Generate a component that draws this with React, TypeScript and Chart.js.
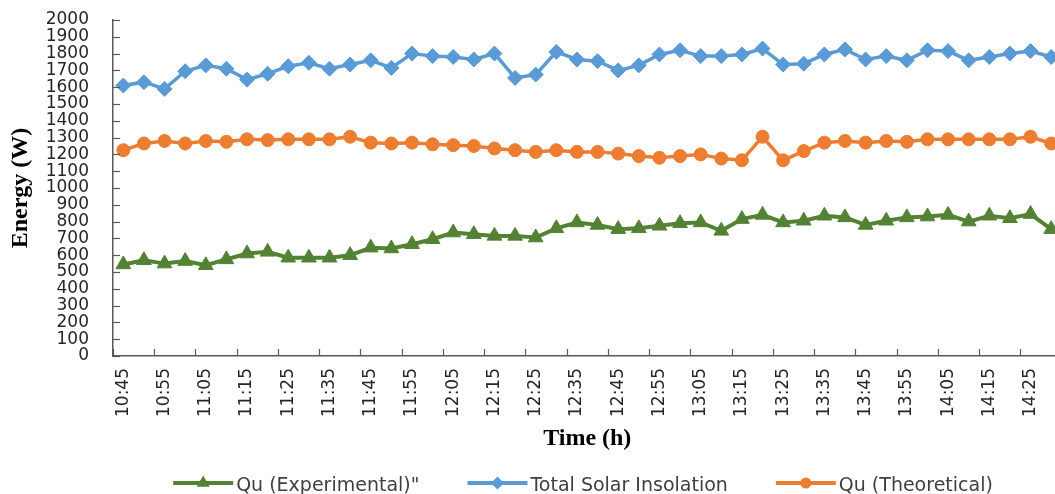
import React, { useEffect, useRef } from 'react';
import { Chart, registerables } from 'chart.js';

Chart.register(...registerables);

// ---- data ----
const times = [
  '10:45', '10:50', '10:55', '11:00', '11:05', '11:10', '11:15', '11:20', '11:25', '11:30',
  '11:35', '11:40', '11:45', '11:50', '11:55', '12:00', '12:05', '12:10', '12:15', '12:20',
  '12:25', '12:30', '12:35', '12:40', '12:45', '12:50', '12:55', '13:00', '13:05', '13:10',
  '13:15', '13:20', '13:25', '13:30', '13:35', '13:40', '13:45', '13:50', '13:55', '14:00',
  '14:05', '14:10', '14:15', '14:20', '14:25', '14:30',
];

const quExperimental = [
  545, 570, 550, 565, 540, 575, 610, 620, 585, 585,
  585, 600, 645, 640, 665, 695, 735, 725, 715, 715,
  705, 760, 795, 780, 755, 760, 775, 790, 795, 745,
  815, 840, 795, 805, 835, 825, 780, 805, 825, 830,
  840, 800, 835, 820, 845, 755,
];

const totalSolarInsolation = [
  1610, 1630, 1590, 1695, 1730, 1710, 1645, 1680, 1725, 1745,
  1710, 1735, 1760, 1715, 1800, 1785, 1780, 1765, 1800, 1655,
  1675, 1810, 1765, 1755, 1700, 1730, 1795, 1820, 1785, 1785,
  1795, 1830, 1735, 1740, 1795, 1825, 1765, 1785, 1760, 1820,
  1815, 1760, 1780, 1800, 1815, 1780,
];

const quTheoretical = [
  1225, 1265, 1280, 1265, 1280, 1275, 1290, 1285, 1290, 1290,
  1290, 1305, 1270, 1265, 1270, 1260, 1255, 1250, 1235, 1225,
  1215, 1225, 1215, 1215, 1205, 1190, 1180, 1190, 1200, 1175,
  1165, 1305, 1165, 1220, 1270, 1280, 1270, 1280, 1275, 1290,
  1290, 1290, 1290, 1290, 1305, 1265,
];

const seriesNames = ['Qu (Experimental)"', 'Total Solar Insolation', 'Qu (Theoretical)'];

const yMin = 0;
const yMax = 2000;
const yStep = 100;

// ---- styles ----
const GREEN = '#548235';
const BLUE = '#5B9BD5';
const ORANGE = '#ED7D31';
const AXIS = '#595959';
const TICK_FONT = { family: '"DejaVu Sans"', size: 17 };
const TITLE_FONT = { family: '"Liberation Serif"', size: 24, weight: 'bold' as const };

function drawMarker(ctx: CanvasRenderingContext2D, style: string, x: number, y: number, r: number) {
  ctx.beginPath();
  if (style === 'triangle') {
    for (let k = 0; k < 3; k++) {
      const a = (k * 2 * Math.PI) / 3;
      const px = x + Math.sin(a) * r;
      const py = y - Math.cos(a) * r;
      if (k === 0) ctx.moveTo(px, py);
      else ctx.lineTo(px, py);
    }
    ctx.closePath();
  } else if (style === 'rectRot') {
    ctx.moveTo(x, y - r);
    ctx.lineTo(x + r, y);
    ctx.lineTo(x, y + r);
    ctx.lineTo(x - r, y);
    ctx.closePath();
  } else {
    ctx.arc(x, y, r, 0, Math.PI * 2);
  }
  ctx.fill();
}

const insideTicksPlugin = {
  id: 'insideTicks',
  afterDraw(chart: any) {
    const { ctx } = chart;
    const xs = chart.scales.x;
    const ys = chart.scales.y;
    ctx.save();
    ctx.strokeStyle = AXIS;
    ctx.lineWidth = 1.2;
    const half = (xs.getPixelForValue(1) - xs.getPixelForValue(0)) / 2;
    for (let i = 0; i < times.length; i += 2) {
      const x = Math.round(xs.getPixelForValue(i) - half) + 0.5;
      ctx.beginPath();
      ctx.moveTo(x, ys.bottom);
      ctx.lineTo(x, ys.bottom - 7);
      ctx.stroke();
    }
    for (let v = yMin; v <= yMax; v += yStep) {
      const y = Math.round(ys.getPixelForValue(v)) + 0.5;
      ctx.beginPath();
      ctx.moveTo(xs.left, y);
      ctx.lineTo(xs.left + 7, y);
      ctx.stroke();
    }
    ctx.restore();
  },
};

const LEGEND_CX = 583;
const LEGEND_Y = 486;

const lineLegendPlugin = {
  id: 'lineLegend',
  afterDraw(chart: any) {
    const { ctx } = chart;
    ctx.save();
    ctx.font = '19px "DejaVu Sans"';
    ctx.textBaseline = 'middle';
    ctx.textAlign = 'left';
    const lineW = 60;
    const gapText = 3;
    const gapItem = 48;
    const items = chart.data.datasets.map((ds: any) => ({
      text: ds.label,
      color: ds.borderColor,
      style: ds.pointStyle,
      r: ds.legendRadius,
      w: ctx.measureText(ds.label).width,
    }));
    const total =
      items.reduce((s: number, it: any) => s + lineW + gapText + it.w, 0) + gapItem * (items.length - 1);
    let x = LEGEND_CX - total / 2;
    const y = LEGEND_Y;
    items.forEach((it: any) => {
      ctx.strokeStyle = it.color;
      ctx.lineWidth = 4;
      ctx.beginPath();
      ctx.moveTo(x, y - 3);
      ctx.lineTo(x + lineW, y - 3);
      ctx.stroke();
      ctx.fillStyle = it.color;
      drawMarker(ctx, it.style, x + lineW / 2, y - 3, it.r);
      ctx.fillStyle = '#404040';
      ctx.fillText(it.text, x + lineW + gapText, y);
      x += lineW + gapText + it.w + gapItem;
    });
    ctx.restore();
  },
};

export default function App() {
  const ref = useRef<HTMLCanvasElement | null>(null);

  useEffect(() => {
    if (!ref.current) return;
    const mk = (label: string, data: number[], color: string, style: string, r: number, lr: number, bw: number) => ({
      label,
      data,
      borderColor: color,
      backgroundColor: color,
      pointBackgroundColor: color,
      pointBorderColor: color,
      pointBorderWidth: 1,
      pointStyle: style,
      pointRadius: r,
      legendRadius: lr,
      borderWidth: bw,
      tension: 0,
      fill: false,
    });
    const chart = new Chart(ref.current, {
      type: 'line',
      data: {
        labels: times,
        datasets: [
          mk(seriesNames[0], quExperimental, GREEN, 'triangle', 8.5, 7.5, 4),
          mk(seriesNames[1], totalSolarInsolation, BLUE, 'rectRot', 7.5, 6.5, 3.5),
          mk(seriesNames[2], quTheoretical, ORANGE, 'circle', 6.5, 5.5, 3.5),
        ] as any,
      },
      options: {
        responsive: false,
        animation: false,
        layout: { padding: { top: 20, right: 1, bottom: 26, left: 0 } },
        plugins: {
          legend: { display: false },
          tooltip: { enabled: false },
        },
        scales: {
          x: {
            type: 'category',
            offset: true,
            grid: { display: true, drawOnChartArea: false, drawTicks: false },
            border: { display: true, color: AXIS, width: 1.5 },
            ticks: {
              autoSkip: false,
              maxRotation: 90,
              minRotation: 90,
              padding: 12,
              color: '#262626',
              font: TICK_FONT,
              callback: (_v: any, i: number) => (i % 2 === 0 ? times[i] : null),
            },
            title: {
              display: true,
              text: 'Time (h)',
              color: '#000',
              font: TITLE_FONT,
              padding: { top: 0, bottom: 15 },
            },
            afterFit: (s: any) => {
              s.height = 112;
            },
          },
          y: {
            min: yMin,
            max: yMax,
            grid: { display: true, drawOnChartArea: false, drawTicks: false },
            border: { display: true, color: AXIS, width: 1.5 },
            ticks: {
              stepSize: yStep,
              autoSkip: false,
              padding: 24,
              color: '#262626',
              font: TICK_FONT,
              callback: (v: any) => String(v),
            },
            title: {
              display: true,
              text: 'Energy (W)',
              color: '#000',
              font: TITLE_FONT,
              padding: { top: 6, bottom: 0 },
            },
            afterFit: (s: any) => {
              s.width = 113;
              s.paddingTop = 0;
              s.paddingBottom = 0;
            },
          },
        },
      } as any,
      plugins: [insideTicksPlugin, lineLegendPlugin],
    });
    return () => chart.destroy();
  }, []);

  return (
    <div
      style={{
        position: 'absolute',
        left: 0,
        top: 0,
        width: 1055,
        height: 494,
        overflow: 'hidden',
        background: '#fff',
      }}
    >
      <canvas ref={ref} width={1071} height={494} />
    </div>
  );
}
